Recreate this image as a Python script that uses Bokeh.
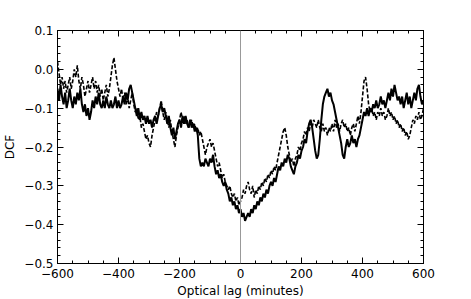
import numpy as np
from bokeh.plotting import figure
from bokeh.models import LinearAxis, FixedTicker, Span, Range1d, CustomLabelingPolicy
from bokeh.embed import file_html
from bokeh.resources import INLINE

# Lag grid (minutes), 5-minute steps
lags = list(range(-600, 601, 5))

solid_dcf = [
    -0.05, -0.08, -0.04, -0.07, -0.09, -0.06, -0.10, -0.08, -0.05, -0.08,
    -0.10, -0.07, -0.09, -0.06, -0.08, -0.05, -0.09, -0.11, -0.09, -0.12,
    -0.10, -0.13, -0.11, -0.08, -0.10, -0.07, -0.09, -0.06, -0.09, -0.10,
    -0.08, -0.10, -0.07, -0.09, -0.10, -0.08, -0.10, -0.09, -0.07, -0.10,
    -0.08, -0.10, -0.09, -0.07, -0.09, -0.06, -0.08, -0.05, -0.04, -0.06,
    -0.08, -0.10, -0.12, -0.10, -0.13, -0.11, -0.13, -0.12, -0.14, -0.12,
    -0.14, -0.13, -0.15, -0.13, -0.12, -0.14, -0.12, -0.10, -0.09, -0.11,
    -0.10, -0.12, -0.14, -0.12, -0.15, -0.17, -0.15, -0.18, -0.16, -0.14,
    -0.13, -0.15, -0.12, -0.14, -0.12, -0.14, -0.15, -0.13, -0.15, -0.14,
    -0.16, -0.15, -0.17, -0.23, -0.25, -0.24, -0.25, -0.23, -0.24, -0.25,
    -0.23, -0.24, -0.22, -0.25, -0.27, -0.26, -0.28, -0.27, -0.29, -0.30,
    -0.29, -0.31, -0.32, -0.34, -0.33, -0.35, -0.34, -0.36, -0.35, -0.37,
    -0.36,
    -0.38, -0.37, -0.39, -0.38, -0.37, -0.38, -0.36, -0.37, -0.35, -0.36,
    -0.34, -0.35, -0.33, -0.34, -0.32, -0.33, -0.31, -0.32, -0.30, -0.29,
    -0.30, -0.28, -0.29, -0.27, -0.25, -0.26, -0.24, -0.25, -0.23, -0.24,
    -0.22, -0.23, -0.25, -0.26, -0.27, -0.25, -0.24, -0.22, -0.23, -0.21,
    -0.20, -0.18, -0.19, -0.16, -0.14, -0.13, -0.15, -0.18, -0.21, -0.23,
    -0.22, -0.18, -0.13, -0.09, -0.07, -0.06, -0.05, -0.07, -0.06, -0.08,
    -0.09, -0.11, -0.13, -0.15, -0.17, -0.19, -0.22, -0.23, -0.20, -0.18,
    -0.20, -0.19, -0.17, -0.19, -0.18, -0.20, -0.18, -0.17, -0.15, -0.13,
    -0.11, -0.12, -0.10, -0.12, -0.10, -0.11, -0.09, -0.10, -0.08, -0.10,
    -0.09, -0.07, -0.09, -0.08, -0.10, -0.08, -0.06, -0.08, -0.05, -0.07,
    -0.04, -0.06, -0.08, -0.07, -0.09, -0.07, -0.10, -0.08, -0.06, -0.09,
    -0.07, -0.10, -0.08, -0.06, -0.08, -0.05, -0.04, -0.07, -0.09, -0.08,
]

dashed_dcf = [
    0.02, -0.01, -0.04, -0.02, -0.05, -0.03, -0.06, -0.04, -0.02, -0.05,
    -0.03, 0.00, -0.02, 0.01, -0.03, -0.05, -0.02, -0.04, -0.07, -0.05,
    -0.03, -0.06, -0.04, -0.02, -0.05, -0.03, -0.06, -0.04, -0.07, -0.05,
    -0.08, -0.06, -0.04, -0.07, -0.05, -0.02, 0.01, 0.03, 0.00, -0.03,
    -0.05, -0.07, -0.05, -0.08, -0.06, -0.09, -0.07, -0.10, -0.08, -0.06,
    -0.09, -0.11, -0.10, -0.13, -0.12, -0.15, -0.14, -0.16, -0.18, -0.17,
    -0.19, -0.20, -0.17, -0.15, -0.13, -0.11, -0.12, -0.10, -0.08, -0.11,
    -0.13, -0.11, -0.13, -0.15, -0.13, -0.16, -0.18, -0.20, -0.17, -0.15,
    -0.13, -0.11, -0.13, -0.12, -0.14, -0.13, -0.15, -0.14, -0.13, -0.15,
    -0.14, -0.16, -0.15, -0.17, -0.16, -0.18, -0.20, -0.22, -0.20, -0.19,
    -0.18, -0.20, -0.19, -0.21, -0.23, -0.25, -0.24, -0.26, -0.28, -0.27,
    -0.29, -0.30, -0.31, -0.30, -0.32, -0.33, -0.32, -0.34, -0.33, -0.35,
    -0.34,
    -0.33, -0.31, -0.32, -0.30, -0.29, -0.31, -0.32, -0.30, -0.33, -0.31,
    -0.32, -0.30, -0.31, -0.29, -0.30, -0.28, -0.29, -0.27, -0.28, -0.26,
    -0.27, -0.25, -0.26, -0.24, -0.22, -0.20, -0.18, -0.16, -0.15, -0.17,
    -0.20, -0.22, -0.24, -0.23, -0.25, -0.23, -0.22, -0.20, -0.21, -0.19,
    -0.18, -0.16, -0.17, -0.15, -0.16, -0.14, -0.15, -0.13, -0.14, -0.15,
    -0.13, -0.15, -0.16, -0.14, -0.16, -0.15, -0.17, -0.15, -0.16, -0.14,
    -0.16, -0.13, -0.15, -0.14, -0.16, -0.14, -0.13, -0.15, -0.14, -0.16,
    -0.15, -0.17, -0.15, -0.14, -0.16, -0.14, -0.12, -0.14, -0.11, -0.07,
    -0.03, -0.02, -0.05, -0.09, -0.11, -0.10, -0.12, -0.11, -0.13, -0.11,
    -0.12, -0.10, -0.12, -0.11, -0.13, -0.12, -0.10, -0.12, -0.11, -0.13,
    -0.12, -0.14, -0.13, -0.15, -0.14, -0.16, -0.15, -0.17, -0.16, -0.18,
    -0.17, -0.15, -0.13, -0.14, -0.12, -0.13, -0.11, -0.13, -0.12, -0.10,
]

x_major = [-600, -400, -200, 0, 200, 400, 600]
x_minor = list(range(-600, 601, 50))
y_major = [-0.5, -0.4, -0.3, -0.2, -0.1, 0.0, 0.1]
y_minor = [round(-0.5 + 0.02 * i, 2) for i in range(31)]
x_labels = ["\u2212600", "\u2212400", "\u2212200", "0", "200", "400", "600"]
y_labels = ["\u22120.5", "\u22120.4", "\u22120.3", "\u22120.2", "\u22120.1", "0.0", "0.1"]

FONT = "DejaVu Sans"

p = figure(frame_width=366, frame_height=233, output_backend="svg", toolbar_location=None,
           x_range=Range1d(-600, 600), y_range=Range1d(-0.5, 0.1),
           min_border_left=51, min_border_right=30, min_border_top=30, min_border_bottom=36,
           x_axis_label="Optical lag (minutes)", y_axis_label="DCF")
p.grid.visible = False
p.background_fill_color = "white"
p.border_fill_color = "white"
p.outline_line_color = "black"
p.outline_line_width = 1

def style_axis(ax, ticks, minor, labels, show_labels=True):
    ax.ticker = FixedTicker(ticks=ticks, minor_ticks=minor)
    ax.major_tick_in = 6
    ax.major_tick_out = 0
    ax.minor_tick_in = 3
    ax.minor_tick_out = 0
    ax.axis_line_color = "black"
    ax.major_tick_line_color = "black"
    ax.minor_tick_line_color = "black"
    ax.major_label_text_font = FONT
    ax.major_label_text_font_size = "12px"
    ax.major_label_text_color = "black"
    ax.axis_label_text_font = FONT
    ax.axis_label_text_font_size = "12px"
    ax.axis_label_text_font_style = "normal"
    ax.axis_label_text_color = "black"
    if show_labels:
        ax.major_label_overrides = {t: l for t, l in zip(ticks, labels)}
    else:
        ax.major_label_policy = CustomLabelingPolicy(code="return new Set()")
        ax.major_label_standoff = 0

style_axis(p.xaxis[0], x_major, x_minor, x_labels)
style_axis(p.yaxis[0], y_major, y_minor, y_labels)
p.xaxis[0].major_label_standoff = 5
p.yaxis[0].major_label_standoff = 4
p.xaxis[0].axis_label_standoff = 3
p.yaxis[0].axis_label_standoff = 4

top = LinearAxis()
style_axis(top, x_major, x_minor, x_labels, show_labels=False)
p.add_layout(top, "above")
right = LinearAxis()
style_axis(right, y_major, y_minor, y_labels, show_labels=False)
p.add_layout(right, "right")

p.add_layout(Span(location=0, dimension="height", line_color="#999999", line_width=1))

p.line(lags, solid_dcf, line_color="black", line_width=2)
p.line(lags, dashed_dcf, line_color="black", line_width=1.6, line_dash="4 2")

open("out.html", "w").write(file_html(p, INLINE))
